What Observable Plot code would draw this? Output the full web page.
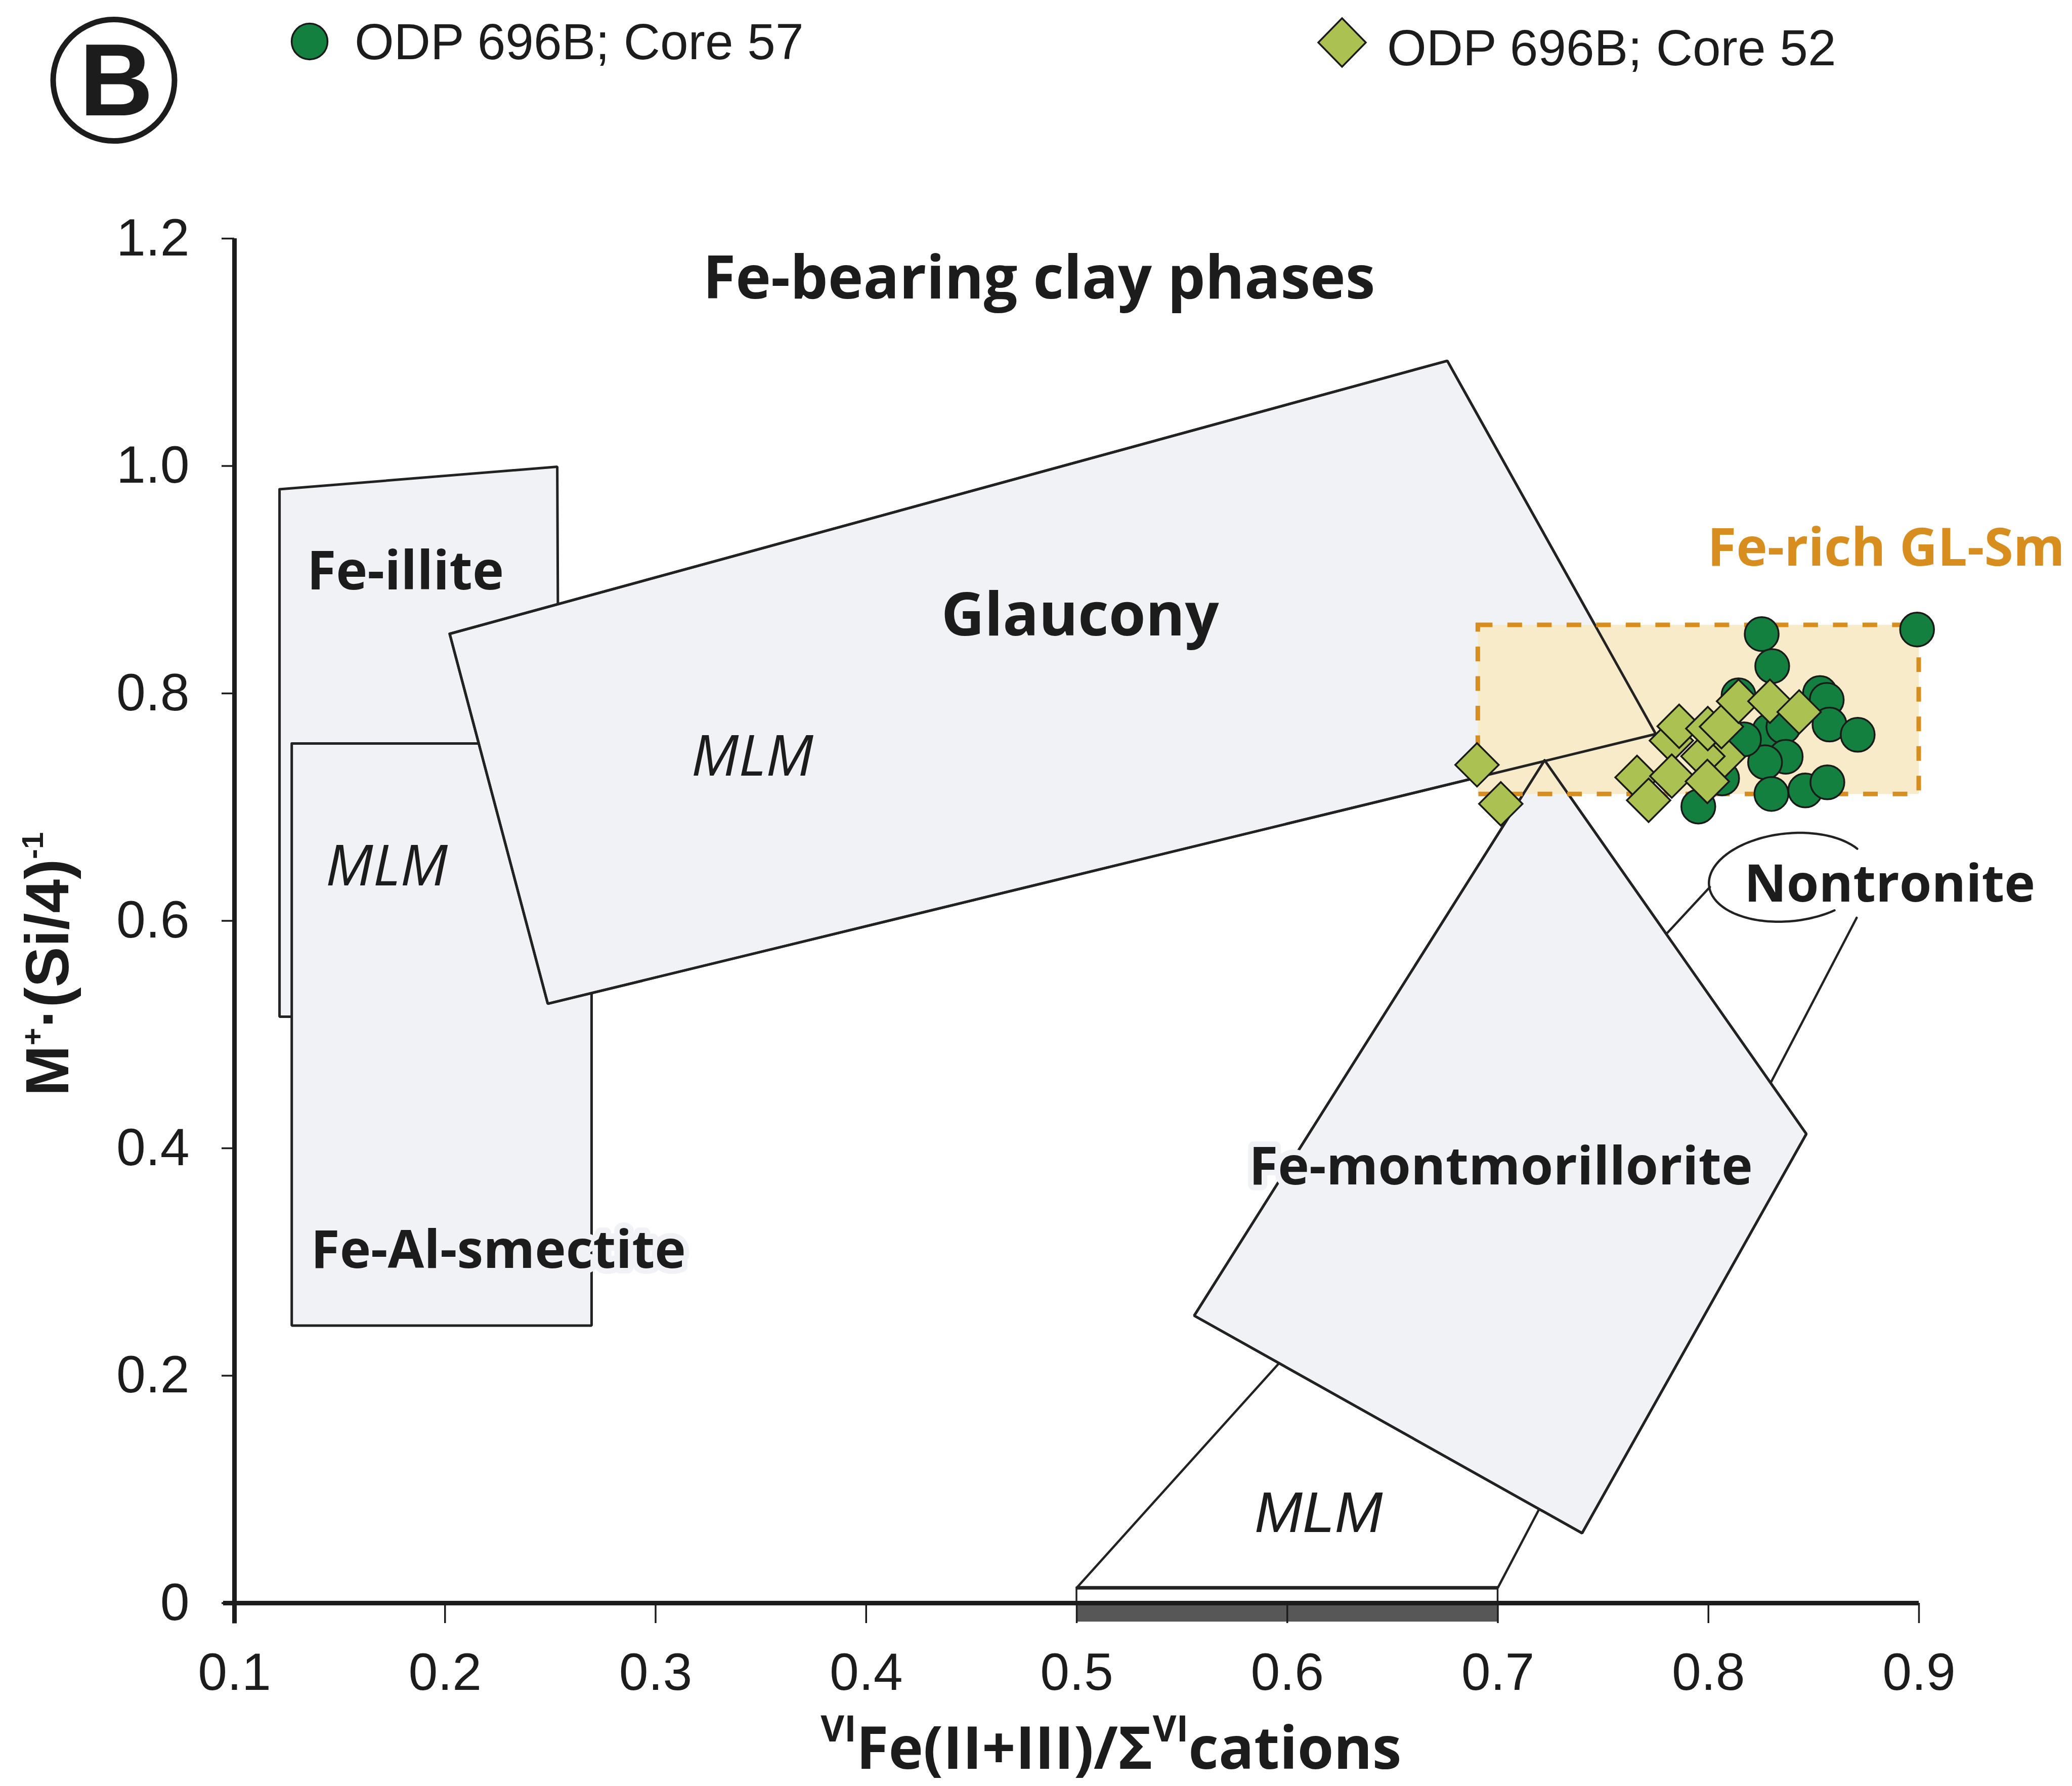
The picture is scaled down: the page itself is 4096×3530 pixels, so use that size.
<!DOCTYPE html>
<html><head><meta charset="utf-8">
<script src="https://cdn.jsdelivr.net/npm/d3@7"></script>
<script src="https://cdn.jsdelivr.net/npm/@observablehq/plot@0.6"></script>
<style>
html,body{margin:0;padding:0;background:#fff;}
#wrap{width:4096px;height:3530px;position:relative;overflow:hidden;background:#fff;}
#head{display:block;}
#chart svg{display:block;}
</style></head>
<body><div id="wrap">
<svg id="head" width="4096" height="300" xmlns="http://www.w3.org/2000/svg"></svg>
<div id="chart"></div>
</div>
<script>
// ---------- data ----------
const xTicks = [0.1, 0.2, 0.3, 0.4, 0.5, 0.6, 0.7, 0.8, 0.9];
const xTickLabels = ["0.1", "0.2", "0.3", "0.4", "0.5", "0.6", "0.7", "0.8", "0.9"];
const yTicks = [0, 0.2, 0.4, 0.6, 0.8, 1.0, 1.2];
const yTickLabels = ["0", "0.2", "0.4", "0.6", "0.8", "1.0", "1.2"];

const seriesNames = ["ODP 696B; Core 57", "ODP 696B; Core 52"];

// ODP 696B; Core 57 (circles): [VIFe/ΣVI cations, M+·(Si/4)^-1]
const core57 = [
  [0.8253, 0.8522], [0.8991, 0.8562], [0.8303, 0.8240], [0.8143, 0.7983],
  [0.8530, 0.8003], [0.8562, 0.7943], [0.8575, 0.7726], [0.8709, 0.7636],
  [0.8290, 0.7671], [0.8356, 0.7707], [0.8367, 0.7443], [0.8269, 0.7395],
  [0.8169, 0.7596], [0.8299, 0.7116], [0.8460, 0.7147], [0.8565, 0.7218],
  [0.8065, 0.7253], [0.7952, 0.7005]
];
// ODP 696B; Core 52 (diamonds)
const core52 = [
  [0.6901, 0.7372], [0.7014, 0.7029], [0.8071, 0.7443], [0.7974, 0.7447],
  [0.7824, 0.7585], [0.7661, 0.7261], [0.7716, 0.7060], [0.7826, 0.7273],
  [0.7995, 0.7226], [0.7861, 0.7711], [0.7997, 0.7691], [0.8062, 0.7707],
  [0.8143, 0.7931], [0.8292, 0.7931], [0.8431, 0.7837]
];

// Compositional fields (polygon vertices)
const feIllite = [[0.1214, 0.9795], [0.2533, 0.9993], [0.2545, 0.5157], [0.1214, 0.5157]];
const feAlSmectite = [[0.1272, 0.7559], [0.2696, 0.7559], [0.2696, 0.2441], [0.1272, 0.2441]];
const glaucony = [[0.2022, 0.8524], [0.6760, 1.0925], [0.7750, 0.7643], [0.2488, 0.5271]];
const mlmLower = [[0.5, 0.0135], [0.6097, 0.2389], [0.7257, 0.1041], [0.7, 0.0135]];
const feMontmorillonite = [[0.7222, 0.7412], [0.8465, 0.4126], [0.7400, 0.0615], [0.5558, 0.2528]];
const nontroniteLinks = [
  [[0.7800, 0.5884], [0.8007, 0.6297]],
  [[0.8704, 0.6027], [0.8297, 0.4580]]
];
// callout oval: centre (data), half-axes (data units), tilt (deg), open arc from/to (deg)
const nontroniteOval = {cx: 0.8384, cy: 0.6383, rx: 0.0383, ry: 0.0386, tilt: -6, from: 59, to: 332};
// Fe-rich GL-Sm box: x1, x2, y1, y2
const glSmBox = [0.6906, 0.9, 0.7113, 0.8601];
// lower MLM base and axis bar: x1, x2
const mlmBase = [0.5, 0.7];
const mlmBaseTop = 0.0135;
const axisBarDepth = -0.0165;

// labels (anchor in data units)
const titleLabel = [{text: "Fe-bearing clay phases", x: 0.4821, y: 1.1474}];
const glauconyLabel = [{text: "Glaucony", x: 0.5016, y: 0.8508}];
const feIlliteLabel = [{text: "Fe-illite", x: 0.1344, y: 0.8913}];
const nontroniteLabel = [{text: "Nontronite", x: 0.8170, y: 0.6167}];
const feAlSmectiteLabel = [{text: "Fe-Al-smectite", x: 0.1363, y: 0.2946}];
const feMontLabel = [{text: "Fe-montmorillorite", x: 0.7014, y: 0.3684}];
const mlmGlaucony = [{text: "MLM", x: 0.3459, y: 0.7276}];
const mlmIllite = [{text: "MLM", x: 0.1433, y: 0.6312}];
const mlmLowerLabel = [{text: "MLM", x: 0.6149, y: 0.0625}];
const glSmLabel = [{text: "Fe-rich GL-Sm", x: 0.7995, y: 0.9124}];
const xTitle = [{text: "VIFe(II+III)/ΣVIcations", x: 0.5163, y: -0.1455}];
const yTitle = [{text: "M+·(Si/4)-1", x: 0.021, y: 0.562}];

// ---------- layout ----------
const W = 4096, H = 3230;
const mL = 463, mR = 303, mT = 171, mB = 362;
const kx = (W - mL - mR) / 0.8;
const ky = (H - mT - mB) / 1.2;

const regionFill = "#f1f2f6";
const ink = "#1c1c1c";
const lineInk = "#222222";
const green57 = "#13803f";
const green52 = "#abc151";
const orange = "#d88e1e";
const sans = "'Liberation Sans', Arial, Helvetica, sans-serif";
const humanist = "'Open Sans', 'Noto Sans', sans-serif";

const ring = p => [...p, p[0]];
const px = d => d[0], py = d => d[1];

// oval outline (geometry of the callout, not data)
function ovalPath(o) {
  const a = o.rx * kx, b = o.ry * ky, phi = o.tilt * Math.PI / 180;
  const pts = [];
  for (let deg = o.from; deg <= o.to + 0.001; deg += 2) {
    const t = deg * Math.PI / 180;
    const ex = a * Math.cos(t), ey = b * Math.sin(t);
    const X = ex * Math.cos(phi) - ey * Math.sin(phi);
    const Y = ex * Math.sin(phi) + ey * Math.cos(phi);
    pts.push([o.cx + X / kx, o.cy - Y / ky]);
  }
  return pts;
}

const diamondSymbol = {
  draw(ctx, size) {
    const h = Math.sqrt(size / Math.PI);
    ctx.moveTo(0, -h); ctx.lineTo(h, 0); ctx.lineTo(0, h); ctx.lineTo(-h, 0); ctx.closePath();
  }
};

const polyOpts = {x: px, y: py, fill: regionFill, stroke: lineInk, strokeWidth: 5, strokeLinejoin: "miter"};
const outlineOpts = {x: px, y: py, fill: "none", stroke: lineInk, strokeWidth: 5, strokeLinejoin: "miter"};
const txt = {x: "x", y: "y", text: "text", lineAnchor: "bottom", fill: ink};

const plot = Plot.plot({
  width: W, height: H,
  marginLeft: mL, marginRight: mR, marginTop: mT, marginBottom: mB,
  x: {domain: [0.1, 0.9]},
  y: {domain: [0, 1.2]},
  style: {background: "#fff", fontFamily: sans, color: ink, overflow: "visible"},
  marks: [
    Plot.line(ring(feIllite), polyOpts),
    Plot.line(ring(feAlSmectite), polyOpts),
    Plot.line(ring(glaucony), polyOpts),
    Plot.line(ring(mlmLower), {...polyOpts, fill: "#ffffff", strokeWidth: 4.5}),
    Plot.rect([mlmBase], {x1: d => d[0], x2: d => d[1], y1: 0, y2: mlmBaseTop, fill: "#ffffff", stroke: lineInk, strokeWidth: 3.5}),
    Plot.ruleY([mlmBaseTop], {x1: mlmBase[0], x2: mlmBase[1], stroke: lineInk, strokeWidth: 7}),
    Plot.line(ring(feMontmorillonite), polyOpts),
    ...nontroniteLinks.map(seg => Plot.line(seg, {x: px, y: py, stroke: lineInk, strokeWidth: 4.5})),
    Plot.line(ovalPath(nontroniteOval), {x: px, y: py, stroke: lineInk, strokeWidth: 4.5, curve: "linear"}),
    // Fe-rich GL-Sm field
    Plot.rect([glSmBox], {x1: d => d[0], x2: d => d[1], y1: d => d[2], y2: d => d[3], fill: "#f7ebc9"}),
    Plot.line(ring(glaucony), outlineOpts),
    Plot.line(ring(feMontmorillonite), outlineOpts),
    Plot.rect([glSmBox], {x1: d => d[0], x2: d => d[1], y1: d => d[2], y2: d => d[3], fill: "none", stroke: orange, strokeWidth: 9, strokeDasharray: "29,29.5"}),
    // labels
    Plot.text(titleLabel, {...txt, fontFamily: humanist, fontWeight: 700, fontSize: 118, textAnchor: "middle"}),
    Plot.text(glauconyLabel, {...txt, fontFamily: humanist, fontWeight: 700, fontSize: 118, textAnchor: "middle"}),
    Plot.text(feIlliteLabel, {...txt, fontFamily: humanist, fontWeight: 700, fontSize: 105, textAnchor: "start"}),
    Plot.text(nontroniteLabel, {...txt, fontFamily: humanist, fontWeight: 700, fontSize: 103, textAnchor: "start"}),
    Plot.text(feAlSmectiteLabel, {...txt, fontFamily: humanist, fontWeight: 700, fontSize: 104, textAnchor: "start", stroke: regionFill, strokeWidth: 22}),
    Plot.text(feMontLabel, {...txt, fontFamily: humanist, fontWeight: 700, fontSize: 104.5, textAnchor: "middle", stroke: regionFill, strokeWidth: 22}),
    Plot.text(mlmGlaucony, {...txt, fontFamily: humanist, fontStyle: "italic", fontSize: 112, textAnchor: "middle"}),
    Plot.text(mlmIllite, {...txt, fontFamily: humanist, fontStyle: "italic", fontSize: 112, textAnchor: "start"}),
    Plot.text(mlmLowerLabel, {...txt, fontFamily: sans, fontStyle: "italic", fontSize: 114, textAnchor: "middle"}),
    Plot.text(glSmLabel, {...txt, fill: orange, fontFamily: humanist, fontWeight: 700, fontSize: 104, textAnchor: "start"}),
    // axes
    Plot.rect([mlmBase], {x1: d => d[0], x2: d => d[1], y1: axisBarDepth, y2: 0, fill: "#575757"}),
    Plot.axisX(xTicks, {tickSize: 40, tickPadding: 58, tickFormat: d => xTickLabels[xTicks.indexOf(d)], fontSize: 104, fontFamily: sans, strokeWidth: 3.5, label: null}),
    Plot.axisY(yTicks, {tickSize: 25, tickPadding: 64, tickFormat: d => yTickLabels[yTicks.indexOf(d)], fontSize: 104, fontFamily: sans, strokeWidth: 3.5, label: null}),
    Plot.ruleY([0], {x1: 0.0947, x2: 0.9, stroke: ink, strokeWidth: 9}),
    Plot.ruleX([0.1], {y1: -0.018, y2: 1.2, stroke: ink, strokeWidth: 9}),
    // data
    Plot.dot(core57, {x: px, y: py, r: 33.5, fill: green57, stroke: "#1a1a1a", strokeWidth: 3.5}),
    Plot.dot(core52, {x: px, y: py, r: 43, symbol: diamondSymbol, fill: green52, stroke: "#1a1a1a", strokeWidth: 3.5}),
    // axis titles
    Plot.text(xTitle, {...txt, fontFamily: humanist, fontWeight: 700, fontSize: 116, textAnchor: "middle"}),
    Plot.text(yTitle, {...txt, fontFamily: sans, fontWeight: 700, fontSize: 120, textAnchor: "middle", rotate: -90})
  ]
});
document.getElementById("chart").appendChild(plot);

// superscripts in axis titles
plot.querySelectorAll("text").forEach(t => {
  if (t.textContent === xTitle[0].text) {
    t.innerHTML = '<tspan font-size="72" dy="-54">VI</tspan><tspan dy="54">Fe(II+III)/Σ</tspan><tspan font-size="72" dy="-54">VI</tspan><tspan dy="54">cations</tspan>';
  } else if (t.textContent === yTitle[0].text) {
    t.innerHTML = 'M<tspan font-size="60" dy="-50">+</tspan><tspan dy="50">·(Si/4)</tspan><tspan font-size="60" dy="-50">-1</tspan>';
  }
});

// ---------- header: panel badge and legend ----------
const NS = "http://www.w3.org/2000/svg";
const head = document.getElementById("head");
function el(name, attrs, text) {
  const e = document.createElementNS(NS, name);
  for (const k in attrs) e.setAttribute(k, attrs[k]);
  if (text != null) e.textContent = text;
  head.appendChild(e);
  return e;
}
el("circle", {cx: 225, cy: 158.6, r: 120, fill: "none", stroke: ink, "stroke-width": 11});
el("text", {x: 230, y: 228, "font-family": sans, "font-weight": 700, "font-size": 202, "text-anchor": "middle", fill: ink}, "B");
el("circle", {cx: 612, cy: 82, r: 35.5, fill: green57, stroke: "#1a1a1a", "stroke-width": 3.5});
el("text", {x: 701, y: 117, "font-family": sans, "font-size": 100, fill: ink}, seriesNames[0]);
el("path", {d: "M2653,36L2700,84L2653,132L2606,84Z", fill: green52, stroke: "#1a1a1a", "stroke-width": 3.5});
el("text", {x: 2742, y: 128.5, "font-family": sans, "font-size": 100, fill: ink}, seriesNames[1]);
</script>
</body></html>
